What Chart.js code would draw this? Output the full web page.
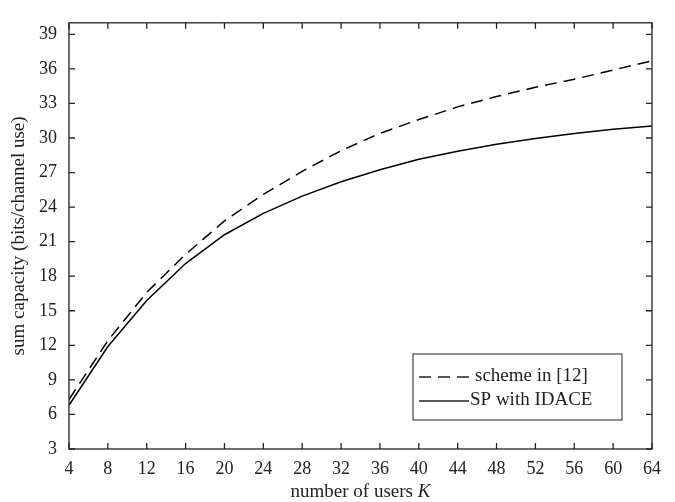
<!DOCTYPE html>
<html>
<head>
<meta charset="utf-8">
<script src="https://cdn.jsdelivr.net/npm/chart.js@4.4.0/dist/chart.umd.min.js"></script>
<style>
  html, body { margin: 0; padding: 0; background: #fff; }
  #wrap { width: 675px; height: 502px; }
</style>
</head>
<body>
<div id="wrap"><canvas id="myChart" width="675" height="502"></canvas></div>
<script>
// data
const users = [4, 8, 12, 16, 20, 24, 28, 32, 36, 40, 44, 48, 52, 56, 60, 64];
const schemeRef = [7.3, 12.4, 16.6, 19.9, 22.8, 25.1, 27.1, 28.9, 30.4, 31.6, 32.7, 33.6, 34.4, 35.1, 35.9, 36.7];
const spIdace = [6.8, 11.9, 15.9, 19.1, 21.6, 23.45, 24.95, 26.2, 27.25, 28.15, 28.85, 29.45, 29.95, 30.4, 30.75, 31.05];
const xTicks = [4, 8, 12, 16, 20, 24, 28, 32, 36, 40, 44, 48, 52, 56, 60, 64];
const yTicks = [3, 6, 9, 12, 15, 18, 21, 24, 27, 30, 33, 36, 39];

const FONT = '"Liberation Serif", "Times New Roman", serif';
const INK = '#222';

// MATLAB-ish box with inward ticks, axis titles and legend
const boxPlugin = {
  id: 'boxPlugin',
  afterDraw(chart) {
    const { ctx, chartArea: a, scales } = chart;
    ctx.save();
    ctx.strokeStyle = INK;
    ctx.lineWidth = 1.3;
    ctx.strokeRect(a.left, a.top, a.right - a.left, a.bottom - a.top);

    // inward ticks
    const tl = 6;
    ctx.beginPath();
    xTicks.forEach(v => {
      const x = scales.x.getPixelForValue(v);
      ctx.moveTo(x, a.bottom); ctx.lineTo(x, a.bottom - tl);
      ctx.moveTo(x, a.top); ctx.lineTo(x, a.top + tl);
    });
    yTicks.forEach(v => {
      const y = scales.y.getPixelForValue(v);
      ctx.moveTo(a.left, y); ctx.lineTo(a.left + tl, y);
      ctx.moveTo(a.right, y); ctx.lineTo(a.right - tl, y);
    });
    ctx.stroke();

    // x title with italic K
    ctx.fillStyle = INK;
    ctx.textBaseline = 'alphabetic';
    ctx.font = '19px ' + FONT;
    const t1 = 'number of users ';
    ctx.font = 'italic 19px ' + FONT;
    const wK = ctx.measureText('K').width;
    ctx.font = '19px ' + FONT;
    const w1 = ctx.measureText(t1).width;
    const cx = (a.left + a.right) / 2;
    let sx = cx - (w1 + wK) / 2;
    ctx.textAlign = 'left';
    ctx.fillText(t1, sx, 497);
    ctx.font = 'italic 19px ' + FONT;
    ctx.fillText('K', sx + w1, 497);

    // y title
    ctx.save();
    ctx.translate(24, (a.top + a.bottom) / 2);
    ctx.rotate(-Math.PI / 2);
    ctx.font = '19px ' + FONT;
    ctx.textAlign = 'center';
    ctx.fillText('sum capacity (bits/channel use)', 0, 0);
    ctx.restore();

    // legend box
    const lx = 413, ly = 354, lw = 209, lh = 66;
    ctx.fillStyle = '#fff';
    ctx.fillRect(lx, ly, lw, lh);
    ctx.lineWidth = 1;
    ctx.strokeRect(lx, ly, lw, lh);
    ctx.lineWidth = 1.5;
    ctx.beginPath();
    ctx.setLineDash([12, 7]);
    ctx.moveTo(lx + 6, ly + 23); ctx.lineTo(lx + 58, ly + 23);
    ctx.stroke();
    ctx.setLineDash([]);
    ctx.beginPath();
    ctx.moveTo(lx + 6, ly + 47); ctx.lineTo(lx + 56, ly + 47);
    ctx.stroke();
    ctx.fillStyle = INK;
    ctx.font = '19px ' + FONT;
    ctx.textAlign = 'left';
    ctx.textBaseline = 'middle';
    ctx.fillText('scheme in [12]', lx + 62, ly + 22);
    ctx.fillText('SP with IDACE', lx + 57, ly + 46);
    ctx.restore();
  }
};

const ctx = document.getElementById('myChart').getContext('2d');
const chart = new Chart(ctx, {
  type: 'line',
  data: {
    datasets: [
      {
        label: 'scheme in [12]',
        data: users.map((k, i) => ({ x: k, y: schemeRef[i] })),
        borderColor: '#000',
        borderWidth: 1.5,
        borderDash: [12, 7],
        pointRadius: 0,
        tension: 0
      },
      {
        label: 'SP with IDACE',
        data: users.map((k, i) => ({ x: k, y: spIdace[i] })),
        borderColor: '#000',
        borderWidth: 1.5,
        pointRadius: 0,
        tension: 0
      }
    ]
  },
  options: {
    responsive: false,
    animation: false,
    layout: { padding: { top: 12, right: 23, left: 0, bottom: 0 } },
    plugins: {
      legend: { display: false },
      tooltip: { enabled: false }
    },
    scales: {
      x: {
        type: 'linear',
        min: 4,
        max: 64,
        grid: { display: false, drawTicks: false },
        border: { display: false },
        afterBuildTicks: (s) => { s.ticks = xTicks.map(v => ({ value: v })); },
        afterFit: (s) => { s.height = 53; },
        ticks: {
          color: INK,
          font: { family: FONT, size: 18 },
          padding: 9,
          maxRotation: 0,
          autoSkip: false
        }
      },
      y: {
        min: 3,
        max: 40,
        grid: { display: false, drawTicks: false },
        border: { display: false },
        afterBuildTicks: (s) => { s.ticks = yTicks.map(v => ({ value: v })); },
        afterFit: (s) => { s.width = 69; },
        ticks: {
          color: INK,
          font: { family: FONT, size: 18 },
          padding: 12,
          autoSkip: false
        }
      }
    }
  },
  plugins: [boxPlugin]
});
</script>
</body>
</html>
